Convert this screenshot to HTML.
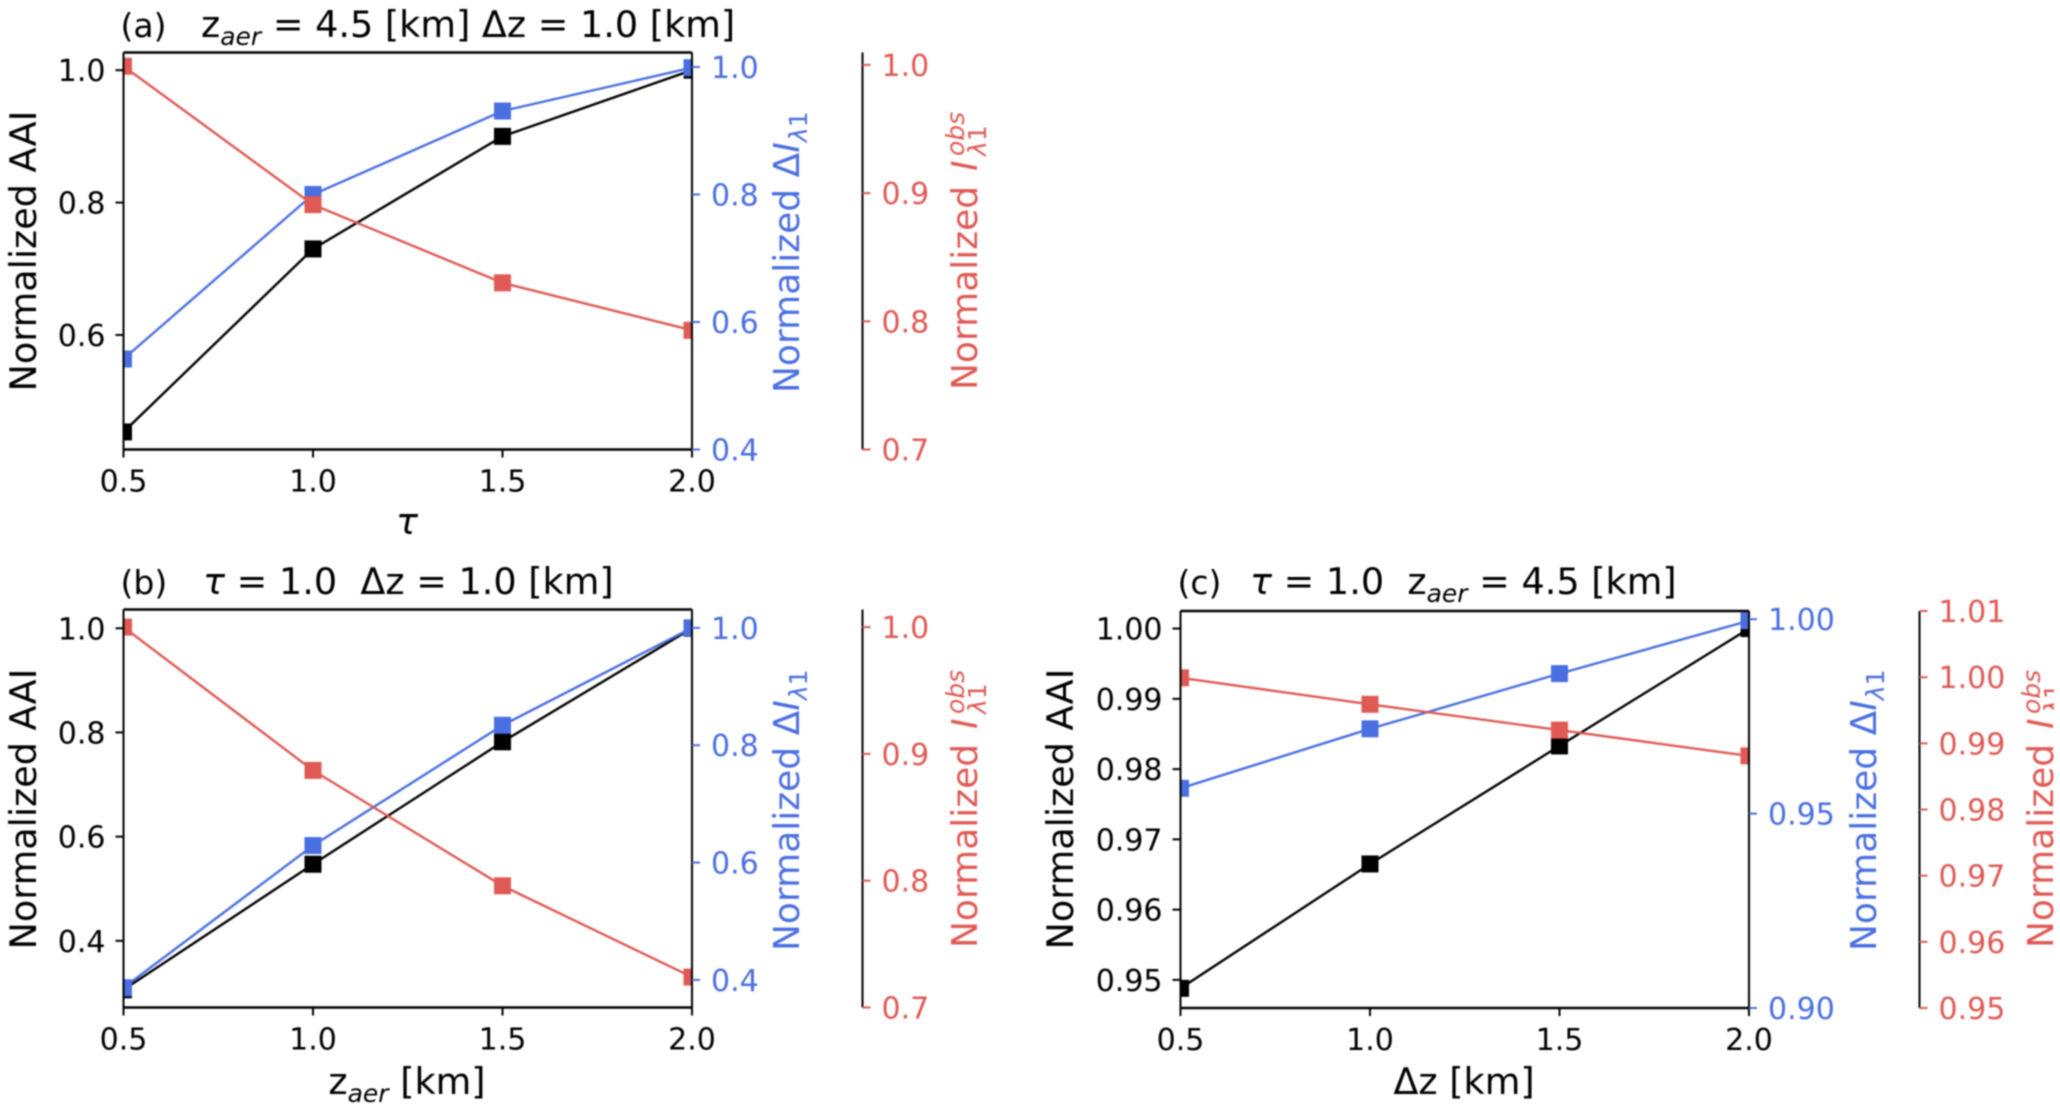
<!DOCTYPE html>
<html lang="en">
<head>
<meta charset="utf-8">
<title>Normalized AAI sensitivity panels</title>
<style>
html,body{margin:0;padding:0;background:#fff;width:2060px;height:1111px;overflow:hidden}
svg{display:block;filter:blur(0.9px)}
text{font-family:"DejaVu Sans","Liberation Sans",sans-serif}
</style>
</head>
<body>
<svg id="figure" xmlns="http://www.w3.org/2000/svg" width="2060" height="1111" viewBox="0 0 2060 1111"></svg>
<script>
const xValues = [0.5, 1.0, 1.5, 2.0];
const xTickLabels = ['0.5', '1.0', '1.5', '2.0'];

const panelAAai = [0.4535, 0.73, 0.90, 1.0];
const panelADelta = [0.542, 0.80, 0.931, 0.999];
const panelAObs = [0.999, 0.891, 0.83, 0.793];
const panelALeftTicks = [0.6, 0.8, 1.0];
const panelALeftLabels = ['0.6', '0.8', '1.0'];
const panelABlueTicks = [0.4, 0.6, 0.8, 1.0];
const panelABlueLabels = ['0.4', '0.6', '0.8', '1.0'];
const panelARedTicks = [0.7, 0.8, 0.9, 1.0];
const panelARedLabels = ['0.7', '0.8', '0.9', '1.0'];
const panelALeftDomain = [0.427, 1.0267];
const panelABlueDomain = [0.4, 1.0228];
const panelARedDomain = [0.7, 1.0097];

const panelBAai = [0.306, 0.547, 0.782, 1.0];
const panelBDelta = [0.3866, 0.629, 0.834, 1.0];
const panelBObs = [1.0, 0.887, 0.796, 0.724];
const panelBLeftTicks = [0.4, 0.6, 0.8, 1.0];
const panelBLeftLabels = ['0.4', '0.6', '0.8', '1.0'];
const panelBBlueTicks = [0.4, 0.6, 0.8, 1.0];
const panelBBlueLabels = ['0.4', '0.6', '0.8', '1.0'];
const panelBRedTicks = [0.7, 0.8, 0.9, 1.0];
const panelBRedLabels = ['0.7', '0.8', '0.9', '1.0'];
const panelBLeftDomain = [0.272, 1.036];
const panelBBlueDomain = [0.353, 1.0313];
const panelBRedDomain = [0.7, 1.0139];

const panelCAai = [0.9488, 0.9665, 0.9833, 1.0];
const panelCDelta = [0.9565, 0.9718, 0.986, 0.9996];
const panelCObs = [0.9999, 0.9959, 0.992, 0.9881];
const panelCLeftTicks = [0.95, 0.96, 0.97, 0.98, 0.99, 1.00];
const panelCLeftLabels = ['0.95', '0.96', '0.97', '0.98', '0.99', '1.00'];
const panelCBlueTicks = [0.90, 0.95, 1.00];
const panelCBlueLabels = ['0.90', '0.95', '1.00'];
const panelCRedTicks = [0.95, 0.96, 0.97, 0.98, 0.99, 1.00, 1.01];
const panelCRedLabels = ['0.95', '0.96', '0.97', '0.98', '0.99', '1.00', '1.01'];
const panelCLeftDomain = [0.946, 1.0025];
const panelCBlueDomain = [0.9, 1.0021];
const panelCRedDomain = [0.95, 1.01];

const BLACK = '#000000';
const BLUE = '#4a6fe0';
const RED = '#df5a55';
const svg = document.getElementById('figure');
const NS = 'http://www.w3.org/2000/svg';

function mk(parent, tag, attrs, txt) {
  const el = document.createElementNS(NS, tag);
  for (const k in attrs) el.setAttribute(k, attrs[k]);
  if (txt !== undefined) el.textContent = txt;
  parent.appendChild(el);
  return el;
}
function scale(domain, pxStart, pxEnd) {
  return v => pxStart + (v - domain[0]) / (domain[1] - domain[0]) * (pxEnd - pxStart);
}
function vLine(g, x, y1, y2, name, color, w) {
  const el = mk(g, 'line', {x1: x, x2: x, y1: y1, y2: y2, stroke: color, 'stroke-width': w});
  
  
}
function hLine(g, x1, x2, y, name, color, w) {
  const el = mk(g, 'line', {x1: x1, x2: x2, y1: y, y2: y, stroke: color, 'stroke-width': w});
  
  
}
function yTicks(g, ticks, labels, y, tickX1, tickX2, labelX, anchor, color, name) {
  ticks.forEach((t, i) => {
    hLine(g, tickX1, tickX2, y(t), name + '-tick', color, 2);
    const el = mk(g, 'text', {x: labelX, y: y(t) + 11, 'font-size': 30, fill: color, 'text-anchor': anchor}, labels[i]);
    
    
  });
}
function series(g, values, x, y, color, name, clipId) {
  const s = mk(g, 'g', {'clip-path': 'url(#' + clipId + ')'});
  
  
  const line = mk(s, 'polyline', {
    points: values.map((v, i) => x(xValues[i]) + ',' + y(v)).join(' '),
    fill: 'none', stroke: color, 'stroke-width': 2.4
  });
  
  
  values.forEach((v, i) => {
    const m = mk(s, 'rect', {x: x(xValues[i]) - 8.5, y: y(v) - 8.5, width: 17, height: 17, fill: color});
    
    
  });
}
function richText(g, attrs, parts, name) {
  const t = mk(g, 'text', attrs);
  
  
  parts.forEach(p => {
    const a = {};
    if (p.it) a['font-style'] = 'italic';
    if (p.sub) { a['font-size'] = 25; a.dy = 8; }
    if (p.sub2) a['font-size'] = 25;
    if (p.back) a.dy = -8;
    mk(t, 'tspan', a, p.t);
  });
  return t;
}
function rotatedGroup(g, x, y, name) {
  const r = mk(g, 'g', {transform: 'translate(' + x + ',' + y + ') rotate(-90)'});
  
  
  return r;
}

function drawPanel(p) {
  const g = mk(svg, 'g', {});
  
  
  const clipId = 'clip-' + p.id;
  const defs = mk(g, 'defs', {});
  const cp = mk(defs, 'clipPath', {id: clipId});
  mk(cp, 'rect', {x: p.left, y: p.top, width: p.right - p.left, height: p.bottom - p.top});

  const x = scale([0.5, 2.0], p.left, p.right);
  const yL = scale(p.leftDomain, p.bottom, p.top);
  const yB = scale(p.blueDomain, p.bottom, p.top);
  const yR = scale(p.redDomain, p.bottom, p.top);

  series(g, p.aai, x, yL, BLACK, p.id + '-aai', clipId);
  series(g, p.delta, x, yB, BLUE, p.id + '-delta-i', clipId);
  series(g, p.obs, x, yR, RED, p.id + '-i-obs', clipId);

  hLine(g, p.left, p.right, p.top, p.id + '-top-spine', BLACK, 2.4);
  hLine(g, p.left, p.right, p.bottom, p.id + '-bottom-spine', BLACK, 2.4);
  vLine(g, p.left, p.top, p.bottom, p.id + '-left-spine', BLACK, 2);
  vLine(g, p.right, p.top, p.bottom, p.id + '-right-spine', BLACK, 2);
  vLine(g, p.redSpine, p.top, p.bottom, p.id + '-red-axis-spine', BLACK, 2);

  xValues.forEach((v, i) => {
    vLine(g, x(v), p.bottom, p.bottom + 8, p.id + '-x-tick', BLACK, 2);
    const el = mk(g, 'text', {x: x(v), y: p.bottom + 42, 'font-size': 30, fill: BLACK, 'text-anchor': 'middle'}, xTickLabels[i]);
    
    
  });

  yTicks(g, p.leftTicks, p.leftLabels, yL, p.left - 8, p.left, p.left - 18, 'end', BLACK, p.id + '-left-axis');
  yTicks(g, p.blueTicks, p.blueLabels, yB, p.right, p.right + 8, p.right + 19, 'start', BLUE, p.id + '-blue-axis');
  yTicks(g, p.redTicks, p.redLabels, yR, p.redSpine, p.redSpine + 8, p.redSpine + 19, 'start', RED, p.id + '-red-axis');

  // panel title
  const lab = mk(g, 'text', {x: p.left - 3, y: p.titleY, 'font-size': 33, fill: BLACK}, p.letter);
  
  
  richText(g, {x: p.titleX, y: p.titleY, 'font-size': 36.6, fill: BLACK}, p.title, p.id + '-title');

  // x axis label
  richText(g, {x: p.xLabelX, y: p.xLabelY, 'font-size': 36.6, fill: BLACK, 'text-anchor': 'middle'}, p.xLabel, p.id + '-x-axis-title');

  // left y-axis label
  const ly = rotatedGroup(g, p.leftLabelX, p.labelStart + 1.5, p.id + '-left-axis-title-group');
  const t1 = mk(ly, 'text', {x: 0, y: 0, 'font-size': 36.6, fill: BLACK}, 'Normalized AAI');
  
  

  // blue y-axis label
  const by = rotatedGroup(g, p.blueLabelX, p.labelStart + 3, p.id + '-blue-axis-title-group');
  richText(by, {x: 0, y: 0, 'font-size': 36, fill: BLUE}, [
    {t: 'Normalized Δ'}, {t: 'I', it: true}, {t: 'λ', it: true, sub: true}, {t: '1', sub2: true}
  ], p.id + '-blue-axis-title');

  // red y-axis label with stacked scripts
  const ry = rotatedGroup(g, p.redLabelX, p.labelStart, p.id + '-red-axis-title-group');
  const rt = mk(ry, 'text', {x: 0, y: 0, 'font-size': 36, fill: RED}, 'Normalized ');
  
  
  const ri = mk(ry, 'text', {x: 219, y: 0, 'font-size': 36, 'font-style': 'italic', fill: RED}, 'I');
  
  
  const rsup = mk(ry, 'text', {x: 234, y: -13, 'font-size': 25, 'font-style': 'italic', fill: RED}, 'obs');
  
  
  const rsub = mk(ry, 'text', {x: 234, y: 9, 'font-size': 25, fill: RED});
  
  
  mk(rsub, 'tspan', {'font-style': 'italic'}, 'λ');
  mk(rsub, 'tspan', {}, '1');
}

drawPanel({
  id: 'panel-a', letter: '(a)',
  left: 123.5, right: 692, top: 52.5, bottom: 449.5, redSpine: 862.5,
  titleX: 201, titleY: 37, xLabelX: 407, xLabelY: 534,
  leftLabelX: 36, blueLabelX: 799, redLabelX: 977, labelStart: 390,
  title: [{t: 'z'}, {t: 'aer', it: true, sub: true}, {t: ' = 4.5 [km] Δz = 1.0 [km]', back: true}],
  xLabel: [{t: 'τ', it: true}],
  aai: panelAAai, delta: panelADelta, obs: panelAObs,
  leftDomain: panelALeftDomain, blueDomain: panelABlueDomain, redDomain: panelARedDomain,
  leftTicks: panelALeftTicks, leftLabels: panelALeftLabels,
  blueTicks: panelABlueTicks, blueLabels: panelABlueLabels,
  redTicks: panelARedTicks, redLabels: panelARedLabels
});
drawPanel({
  id: 'panel-b', letter: '(b)',
  left: 123.5, right: 692, top: 609.5, bottom: 1007.5, redSpine: 862.5,
  titleX: 203, titleY: 594, xLabelX: 407, xLabelY: 1094,
  leftLabelX: 36, blueLabelX: 799, redLabelX: 977, labelStart: 948,
  title: [{t: 'τ', it: true}, {t: ' = 1.0\u00a0\u00a0Δz = 1.0 [km]'}],
  xLabel: [{t: 'z'}, {t: 'aer', it: true, sub: true}, {t: ' [km]', back: true}],
  aai: panelBAai, delta: panelBDelta, obs: panelBObs,
  leftDomain: panelBLeftDomain, blueDomain: panelBBlueDomain, redDomain: panelBRedDomain,
  leftTicks: panelBLeftTicks, leftLabels: panelBLeftLabels,
  blueTicks: panelBBlueTicks, blueLabels: panelBBlueLabels,
  redTicks: panelBRedTicks, redLabels: panelBRedLabels
});
drawPanel({
  id: 'panel-c', letter: '(c)',
  left: 1180.5, right: 1749, top: 611, bottom: 1008, redSpine: 1919.5,
  titleX: 1250, titleY: 594, xLabelX: 1464, xLabelY: 1094,
  leftLabelX: 1073, blueLabelX: 1876, redLabelX: 2053, labelStart: 948,
  title: [{t: 'τ', it: true}, {t: ' = 1.0\u00a0\u00a0z'}, {t: 'aer', it: true, sub: true}, {t: ' = 4.5 [km]', back: true}],
  xLabel: [{t: 'Δz [km]'}],
  aai: panelCAai, delta: panelCDelta, obs: panelCObs,
  leftDomain: panelCLeftDomain, blueDomain: panelCBlueDomain, redDomain: panelCRedDomain,
  leftTicks: panelCLeftTicks, leftLabels: panelCLeftLabels,
  blueTicks: panelCBlueTicks, blueLabels: panelCBlueLabels,
  redTicks: panelCRedTicks, redLabels: panelCRedLabels
});

// the source image is cropped just before its right edge
const edge = mk(svg, 'rect', {x: 2054, y: 0, width: 6, height: 1111, fill: '#ffffff'});


</script>
</body>
</html>
